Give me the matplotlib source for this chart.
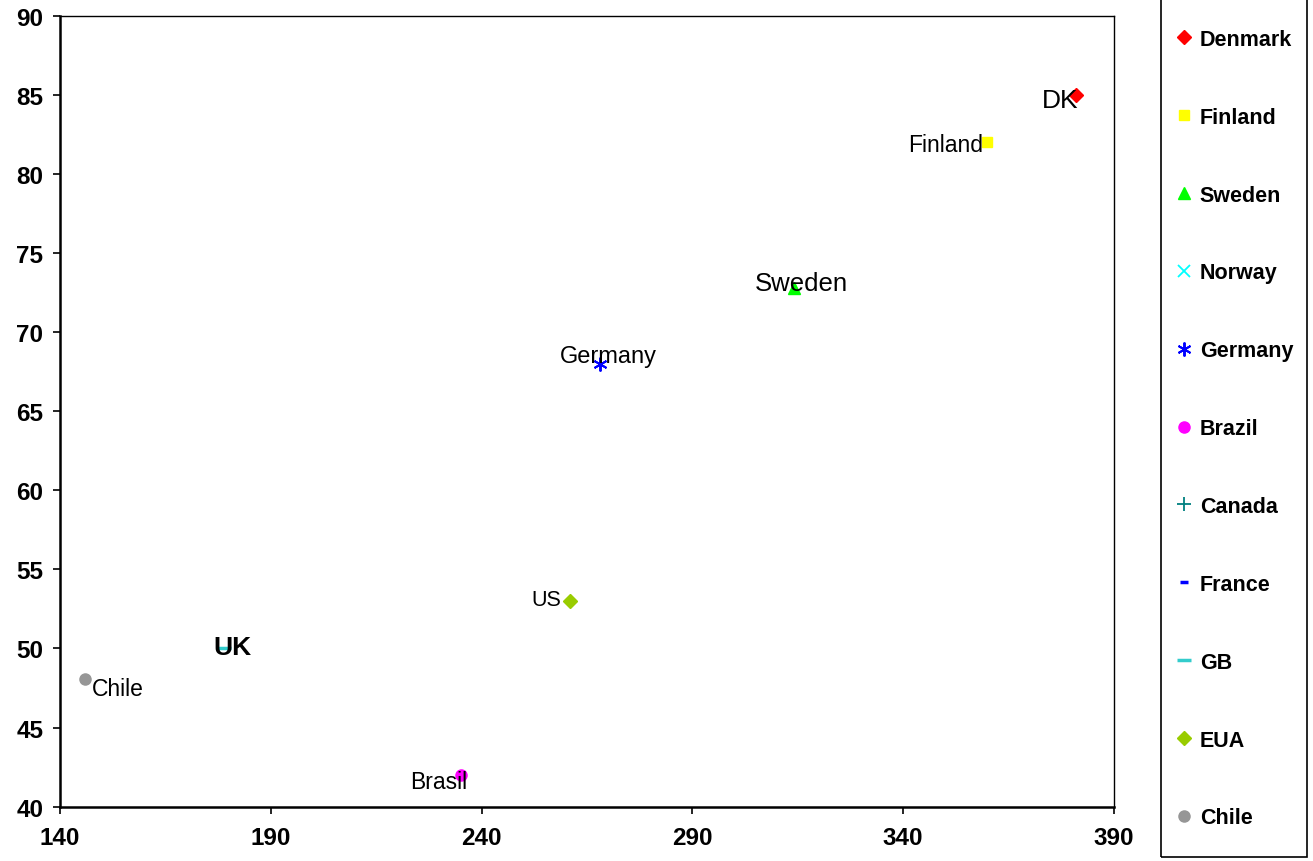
import matplotlib
matplotlib.use('Agg')
import matplotlib.pyplot as plt
from matplotlib.patches import Rectangle

plt.rcParams['font.family'] = ['Liberation Sans', 'DejaVu Sans']

# data (None = series in legend but no point shown)
countries = ['Denmark', 'Finland', 'Sweden', 'Norway', 'Germany', 'Brazil',
             'Canada', 'France', 'GB', 'EUA', 'Chile']
x_vals = [381, 360, 314, None, 268, 235, None, None, 179, 261, 146]
y_vals = [85, 82, 72.8, None, 68, 42, None, None, 50, 53, 48.1]
point_labels = ['DK', 'Finland', 'Sweden', None, 'Germany', 'Brasil',
                None, None, 'UK', 'US', 'Chile']

x_ticks = [140, 190, 240, 290, 340, 390]
y_ticks = [40, 45, 50, 55, 60, 65, 70, 75, 80, 85, 90]

# marker styles per series
styles = {
    'Denmark': dict(marker='D', color='#FF0000', ms=7),
    'Finland': dict(marker='s', color='#FFFF00', ms=7.5),
    'Sweden': dict(marker='^', color='#00FF00', ms=8.5),
    'Norway': dict(marker='x', color='#00FFFF', ms=8.5, mew=1.3),
    'Germany': dict(marker=(6, 2, 0), color='#0000FF', ms=10, mew=1.4),
    'Brazil': dict(marker='o', color='#FF00FF', ms=8),
    'Canada': dict(marker='+', color='#008080', ms=9.5, mew=1.3),
    'France': dict(marker='_', color='#0000FF', ms=6, mew=2.5),
    'GB': dict(marker='_', color='#33CCCC', ms=9.5, mew=2.5),
    'EUA': dict(marker='D', color='#99CC00', ms=7),
    'Chile': dict(marker='o', color='#969696', ms=8),
}

# label placement: (dx, dy) in points, horizontal alignment, size, weight
label_style = {
    'DK': ((2, -4), 'right', 19, 'normal'),
    'Finland': ((-3, -1.5), 'right', 16.5, 'normal'),
    'Sweden': ((6, 3.6), 'center', 18.5, 'normal'),
    'Germany': ((6, 5.8), 'center', 17, 'normal'),
    'Brasil': ((-16, -4.3), 'center', 16.5, 'normal'),
    'UK': ((5.8, 1.4), 'center', 19, 'bold'),
    'US': ((-6.5, 1.4), 'right', 15.5, 'normal'),
    'Chile': ((5, -7), 'left', 16.5, 'normal'),
}

fig = plt.figure(figsize=(13.13, 8.62), dpi=100)
ax = fig.add_axes([0.0457, 0.063, 0.8027, 0.9176])

handles = []
for name, xv, yv, lab in zip(countries, x_vals, y_vals, point_labels):
    st = styles[name]
    xs = [] if xv is None else [xv]
    ys = [] if yv is None else [yv]
    h, = ax.plot(xs, ys, linestyle='none', marker=st['marker'], markersize=st['ms'],
                 color=st['color'], markeredgecolor=st['color'],
                 markeredgewidth=st.get('mew', 1), label=name, zorder=3)
    handles.append(h)
    if lab is not None and xv is not None:
        (dx, dy), ha, fs, fw = label_style[lab]
        ax.annotate(lab, (xv, yv), xytext=(dx, dy), textcoords='offset points',
                    ha=ha, va='center', fontsize=fs, fontweight=fw, color='black', zorder=4)

ax.set_xlim(140, 390)
ax.set_ylim(40, 90)
ax.set_xticks(x_ticks)
ax.set_yticks(y_ticks)
ax.tick_params(direction='out', length=5, width=1.2, labelsize=17.5, top=False, right=False)
ax.tick_params(axis='x', pad=9)
ax.tick_params(axis='y', pad=7)
for lbl in ax.get_xticklabels() + ax.get_yticklabels():
    lbl.set_fontweight('bold')
ax.spines['left'].set_linewidth(1.8)
ax.spines['bottom'].set_linewidth(1.8)
ax.spines['top'].set_linewidth(1.0)
ax.spines['right'].set_linewidth(1.0)

# legend box drawn by hand, running off the top edge
fig.patches.append(Rectangle((1161 / 1313, 4 / 862), 146 / 1313, 862 / 862,
                             transform=fig.transFigure, fill=False,
                             edgecolor='black', linewidth=1.2))
fig.legend(handles=handles, loc='upper left', bbox_to_anchor=(1173 / 1313, 1 - 30 / 862),
           frameon=False, borderpad=0, borderaxespad=0, handlelength=1.0,
           handletextpad=0.25, labelspacing=2.64, numpoints=1,
           prop=dict(size=15.5, weight='bold'))

fig.savefig('out.png', dpi=100)
